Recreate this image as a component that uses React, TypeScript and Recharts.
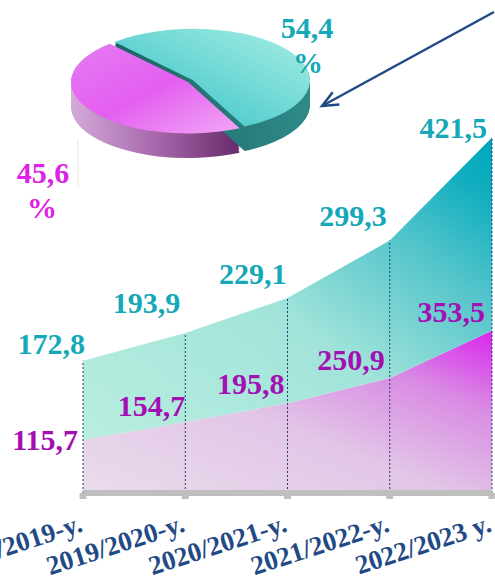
import { AreaChart, Area, XAxis, YAxis, ReferenceLine, LabelList, PieChart, Pie, Cell } from "recharts"

const years = ["2018/2019-y.", "2019/2020-y.", "2020/2021-y.", "2021/2022-y.", "2022/2023 y."]
const lowerValues = [115.7, 154.7, 195.8, 250.9, 353.5]
const upperValues = [172.8, 193.9, 229.1, 299.3, 421.5]
const shareNames = ["lower", "upper"]
const shareValues = [45.6, 54.4]

const data = years.map((year, i) => ({ year, lower: lowerValues[i], upper: upperValues[i] }))
const pieData = shareNames.map((name, i) => ({ name, value: shareValues[i] }))

// label nudges (dx, dy) relative to the point
const upperShift = [[2, -7], [-5, -20], [-1, -14], [-3, -15], [-5, 1]]
const lowerShift = [[-5, 10], [0, -6], [-3, -9], [-5, -8], [-7, -9]]

const serif = "'Liberation Serif', 'Times New Roman', serif"
const teal = "#14A8B8"
const purple = "#A40FB3"
const navy = "#1F4A86"

const fmt = (v: number) => v.toFixed(1).replace(".", ",")

function valueLabel(values: number[], shift: number[][], color: string) {
  return (props: any) => {
    const { x, y, index } = props
    const [dx, dy] = shift[index]
    return (
      <text x={x + dx} y={y + dy} textAnchor="end" fill={color} fontFamily={serif} fontWeight="bold" fontSize={30}>
        {fmt(values[index])}
      </text>
    )
  }
}

function YearTick(props: any) {
  const { x, y, payload } = props
  return (
    <text
      transform={`translate(${x + 1},${y + 32}) rotate(-18)`}
      textAnchor="end"
      fill={navy}
      fontFamily={serif}
      fontWeight="bold"
      fontSize={27}
    >
      {payload.value}
    </text>
  )
}

function PieBlock() {
  const start = 132
  const r = 117
  const layers = [] as number[]
  for (let k = 56; k > 0; k -= 3) layers.push(k)
  return (
    <div style={{ position: "absolute", left: 58, top: 27, width: 260, height: 300, transform: "scaleY(0.44)", transformOrigin: "0 0" }}>
      <PieChart width={260} height={300}>
        <defs>
          <linearGradient id="sideLow" x1="0" y1="0" x2="1" y2="0">
            <stop offset="0" stopColor="#D3AAD8" />
            <stop offset="0.5" stopColor="#A868AC" />
            <stop offset="1" stopColor="#672A6A" />
          </linearGradient>
          <linearGradient id="sideUp" x1="0" y1="0" x2="1" y2="0">
            <stop offset="0" stopColor="#1E6466" />
            <stop offset="1" stopColor="#2E8A88" />
          </linearGradient>
          <linearGradient id="topLow" x1="0" y1="0" x2="1" y2="1">
            <stop offset="0" stopColor="#E57CF2" />
            <stop offset="0.5" stopColor="#E45EF0" />
            <stop offset="1" stopColor="#F2A8F6" />
          </linearGradient>
          <linearGradient id="topUp" x1="0" y1="1" x2="1" y2="0">
            <stop offset="0" stopColor="#2EBEC6" />
            <stop offset="1" stopColor="#A8EFE3" />
          </linearGradient>
        </defs>
        {layers.map((k) => (
          <Pie
            key={"sl" + k}
            data={pieData}
            dataKey="value"
            cx={125}
            cy={120 + k}
            outerRadius={r}
            startAngle={start}
            endAngle={start + 360}
            stroke="none"
            isAnimationActive={false}
          >
            <Cell fill="url(#sideLow)" />
            <Cell fill="none" />
          </Pie>
        ))}
        {layers.map((k) => (
          <Pie
            key={"su" + k}
            data={pieData}
            dataKey="value"
            cx={130}
            cy={116 + k}
            outerRadius={r}
            startAngle={start}
            endAngle={start + 360}
            stroke="none"
            isAnimationActive={false}
          >
            <Cell fill="none" />
            <Cell fill="url(#sideUp)" />
          </Pie>
        ))}
        <Pie
          data={pieData}
          dataKey="value"
          cx={125}
          cy={120}
          outerRadius={r}
          startAngle={start}
          endAngle={start + 360}
          stroke="none"
          isAnimationActive={false}
        >
          <Cell fill="url(#topLow)" />
          <Cell fill="none" />
        </Pie>
        <Pie
          data={pieData}
          dataKey="value"
          cx={130}
          cy={116}
          outerRadius={r}
          startAngle={start}
          endAngle={start + 360}
          stroke="none"
          isAnimationActive={false}
        >
          <Cell fill="none" />
          <Cell fill="url(#topUp)" />
        </Pie>
      </PieChart>
    </div>
  )
}

function Overlay() {
  const x1 = 494, y1 = 12, x2 = 322, y2 = 106
  const len = Math.hypot(x2 - x1, y2 - y1)
  const ux = (x2 - x1) / len, uy = (y2 - y1) / len
  const bx = x2 - ux * 16, by = y2 - uy * 16
  const px = -uy * 7, py = ux * 7
  return (
    <svg width={495} height={582} style={{ position: "absolute", left: 0, top: 0, pointerEvents: "none" }}>
      <line x1={78} y1={140} x2={78} y2={186} stroke="#E2E2E2" strokeWidth={1} />
      <line x1={x1} y1={y1} x2={x2} y2={y2} stroke={navy} strokeWidth={2.5} />
      <polyline
        points={`${bx + px},${by + py} ${x2},${y2} ${bx - px},${by - py}`}
        fill="none"
        stroke={navy}
        strokeWidth={2.5}
      />
      <g fontFamily={serif} fontWeight="bold" fontSize={30} textAnchor="middle">
        <text x={307} y={38} fill={teal}>{fmt(shareValues[1])}</text>
        <text x={308} y={73} fill={teal}>%</text>
        <text x={43} y={183} fill="#DE22E6">{fmt(shareValues[0])}</text>
        <text x={42} y={218} fill="#DE22E6">%</text>
      </g>
    </svg>
  )
}

export default function App() {
  return (
    <div style={{ position: "absolute", left: 0, top: 0, width: 495, height: 582, background: "#fff", overflow: "hidden" }}>
      <AreaChart width={495} height={582} data={data} margin={{ top: 126, right: 3, bottom: 29, left: 83 }}>
        <defs>
          <linearGradient id="gradUp" x1="0" y1="1" x2="1" y2="0">
            <stop offset="0" stopColor="#B8EEDF" />
            <stop offset="0.45" stopColor="#A2E4DA" />
            <stop offset="0.72" stopColor="#55C5CB" />
            <stop offset="0.9" stopColor="#10AEBF" />
            <stop offset="1" stopColor="#00A6BB" />
          </linearGradient>
          <linearGradient id="gradLow" x1="0" y1="1" x2="1" y2="0">
            <stop offset="0" stopColor="#E9DCEB" />
            <stop offset="0.45" stopColor="#E2C6E7" />
            <stop offset="0.75" stopColor="#D98BE3" />
            <stop offset="1" stopColor="#D925EE" />
          </linearGradient>
        </defs>
        <XAxis
          dataKey="year"
          height={60}
          axisLine={{ stroke: "#BFBFBF", strokeWidth: 6 }}
          tickLine={{ stroke: "#BFBFBF", strokeWidth: 7 }}
          tickSize={6}
          tickMargin={0}
          interval={0}
          tick={<YearTick />}
        />
        <YAxis hide domain={[0, 800]} />
        <Area
          type="linear"
          dataKey="lower"
          stackId="s"
          stroke="none"
          fill="url(#gradLow)"
          fillOpacity={1}
          isAnimationActive={false}
        >
          <LabelList dataKey="lower" content={valueLabel(lowerValues, lowerShift, purple)} />
        </Area>
        <Area
          type="linear"
          dataKey="upper"
          stackId="s"
          stroke="none"
          fill="url(#gradUp)"
          fillOpacity={1}
          isAnimationActive={false}
        >
          <LabelList dataKey="upper" content={valueLabel(upperValues, upperShift, teal)} />
        </Area>
        {years.map((year, i) => (
          <ReferenceLine
            key={year}
            segment={[{ x: year, y: 0 }, { x: year, y: lowerValues[i] + upperValues[i] }]}
            stroke="#1F3F6E"
            strokeDasharray="2 2"
            strokeWidth={1}
          />
        ))}
      </AreaChart>
      <PieBlock />
      <Overlay />
    </div>
  )
}
